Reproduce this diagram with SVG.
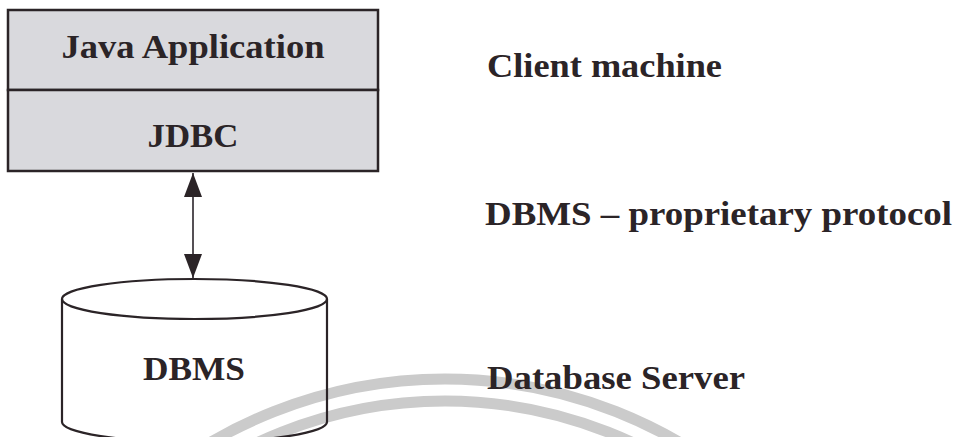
<svg xmlns="http://www.w3.org/2000/svg" width="958" height="437" viewBox="0 0 958 437">
  <style>
    .lbl { font-family: "Liberation Serif", "Times New Roman", serif; font-weight: bold; font-size: 33px; fill: #2b2427; }
    .box { fill: #d9d9dd; stroke: #2b2427; stroke-width: 2.5; }
    .outline { fill: none; stroke: #2b2427; stroke-width: 2.2; }
    .wm { fill: none; stroke: #cbcbcb; stroke-width: 11; }
    .link { stroke: #555055; stroke-width: 2; }
  </style>
  <defs>
    <marker id="head" viewBox="0 0 24 18" refX="24" refY="9" markerWidth="24" markerHeight="18" markerUnits="userSpaceOnUse" orient="auto-start-reverse">
      <path d="M0,0 L24,9 L0,18 z" fill="#2b2427"/>
    </marker>
  </defs>

  <rect width="958" height="437" fill="#ffffff"/>

  <!-- faint background arcs -->
  <g id="watermark">
    <circle class="wm" cx="445" cy="844" r="465"/>
    <circle class="wm" cx="445" cy="844" r="443"/>
  </g>

  <!-- client stack: application over driver -->
  <g id="java-application">
    <rect class="box" x="8" y="10" width="370" height="80"/>
    <text class="lbl" x="193" y="58" text-anchor="middle" textLength="263" lengthAdjust="spacingAndGlyphs">Java Application</text>
  </g>
  <g id="jdbc">
    <rect class="box" x="8" y="90" width="370" height="81"/>
    <text class="lbl" x="193" y="147" text-anchor="middle" textLength="91" lengthAdjust="spacingAndGlyphs">JDBC</text>
  </g>

  <!-- database cylinder -->
  <g id="dbms">
    <path class="outline" d="M62,299 L62,422 A132.5,20 0 0 0 327,422 L327,299"/>
    <ellipse class="outline" cx="194.5" cy="299" rx="132.5" ry="20"/>
    <text class="lbl" x="194" y="380" text-anchor="middle" textLength="102" lengthAdjust="spacingAndGlyphs">DBMS</text>
  </g>

  <g id="connectors">
    <line class="link" x1="193" y1="173" x2="193" y2="278" marker-start="url(#head)" marker-end="url(#head)"/>
  </g>

  <!-- tier labels -->
  <g id="labels">
    <text class="lbl" x="487" y="77" textLength="235" lengthAdjust="spacingAndGlyphs">Client machine</text>
    <text class="lbl" x="485" y="225" textLength="467" lengthAdjust="spacingAndGlyphs">DBMS – proprietary protocol</text>
    <text class="lbl" x="487" y="389" textLength="258" lengthAdjust="spacingAndGlyphs">Database Server</text>
  </g>
</svg>
